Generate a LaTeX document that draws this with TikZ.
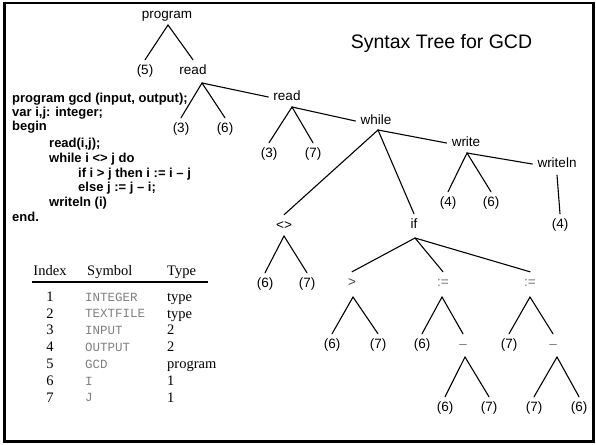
\documentclass[tikz,border=0pt]{standalone}
\usepackage{fontspec}
\setmainfont{Liberation Sans}
\newfontfamily\serifface{Liberation Serif}
\newfontfamily\monoface{Liberation Mono}
\begin{document}
\begin{tikzpicture}[x=1pt,y=-1pt,
  lab/.style={font=\fontsize{13.5}{16}\selectfont, inner xsep=5pt, inner ysep=0pt,
              text height=9.5pt, text depth=2.5pt, minimum height=22pt},
  opr/.style={lab, text=black!55},
  edge/.style={line width=1.1pt, line cap=round},
  code/.style={font=\bfseries\fontsize{13}{15}\selectfont, anchor=west, inner sep=0pt},
  tabs/.style={font=\serifface\fontsize{14.5}{17}\selectfont, inner sep=0pt,
               text height=9pt, text depth=2.5pt},
  tabm/.style={font=\monoface\fontsize{12.5}{15}\selectfont, inner sep=0pt, text=black!50,
               anchor=west, text height=8pt, text depth=2pt},
  title/.style={font=\fontsize{19.5}{22}\selectfont, inner sep=0pt}]
\useasboundingbox (0,0) rectangle (596,444);
\draw[line width=2.5pt] (4.5,3) rectangle (593.5,441.5);
\draw[line width=1.5pt] (3.5,3) -- (3.5,441.5);

% title
\node[title] (ttl) at (441.5,43) {Syntax Tree for GCD};

% code
\node[code] (c1) at (12,99) {program gcd (input, output);};
\node[code] (c2) at (12,113) {var i,j: integer;};
\node[code] (c3) at (12,127) {begin};
\node[code] (c4) at (49,144) {read(i,j);};
\node[code] (c5) at (49,159) {while i <> j do};
\node[code] (c6) at (78,174) {if i > j then i := i – j};
\node[code] (c7) at (78,188) {else j := j – i;};
\node[code] (c8) at (49,203) {writeln (i)};
\node[code] (c9) at (12,217) {end.};

% tree nodes
\node[lab] (prog) at (167,15) {program};
\node[lab] (n5) at (145,71) {(5)};
\node[lab] (rd1) at (193,71) {read};
\node[lab] (n3a) at (181,129) {(3)};
\node[lab] (n6a) at (225,129) {(6)};
\node[lab] (rd2) at (287,97) {read};
\node[lab] (n3b) at (269,154) {(3)};
\node[lab] (n7b) at (313,154) {(7)};
\node[lab] (wh) at (376,121) {while};
\node[lab] (wr) at (466,143) {write};
\node[lab] (n4a) at (448,203) {(4)};
\node[lab] (n6b) at (491,203) {(6)};
\node[lab] (wl) at (557,164) {writeln};
\node[lab] (n4b) at (560,225) {(4)};
\node[lab] (ne) at (284,226) {<>};
\node[lab] (iff) at (414,225) {if};
\node[lab] (n6c) at (265,284) {(6)};
\node[lab] (n7c) at (307,284) {(7)};
\node[opr, text=black!75] (gt) at (352,283) {>};
\node[opr] (as1) at (443,283) {:=};
\node[opr] (as2) at (530,283) {:=};
\node[lab] (n6d) at (332,345) {(6)};
\node[lab] (n7d) at (378,345) {(7)};
\node[lab] (n6e) at (422,345) {(6)};
\node[opr] (mi1) at (463,345) {–};
\node[lab] (n7e) at (509,345) {(7)};
\node[opr] (mi2) at (553,345) {–};
\node[lab] (n6f) at (445,408) {(6)};
\node[lab] (n7f) at (489,408) {(7)};
\node[lab] (n7g) at (534,408) {(7)};
\node[lab] (n6g) at (579,408) {(6)};

% apex points under parents
\coordinate (aprog) at (168,25);
\coordinate (ard1) at (202,83);
\coordinate (ard2) at (292,107);
\coordinate (awh) at (378,130);
\coordinate (awr) at (467,153);
\coordinate (ane) at (284,236);
\coordinate (aif) at (415,238);
\coordinate (agt) at (353,297);
\coordinate (aas1) at (442,297);
\coordinate (aas2) at (530,297);
\coordinate (ami1) at (465,357);
\coordinate (ami2) at (557,357);

% edges
\draw[edge] (n5.north) -- (aprog) -- (rd1.north);
\draw[edge] (n3a.north) -- (ard1) -- (n6a.north);
\draw[edge] (ard1) -- (rd2.west);
\draw[edge] (n3b.north) -- (ard2) -- (n7b.north);
\draw[edge] (ard2) -- (wh.west);
\draw[edge] (ne.north) -- (awh) -- (iff.north);
\draw[edge] (awh) -- (wr.west);
\draw[edge] (n4a.north) -- (awr) -- (n6b.north);
\draw[edge] (awr) -- (wl.west);
\draw[edge] (wl.south) -- (n4b.north);
\draw[edge] (n6c.north) -- (ane) -- (n7c.north);
\draw[edge] (gt.north) -- (aif) -- (as1.north);
\draw[edge] (aif) -- (as2.north);
\draw[edge] (n6d.north) -- (agt) -- (n7d.north);
\draw[edge] (n6e.north) -- (aas1) -- (mi1.north);
\draw[edge] (n7e.north) -- (aas2) -- (mi2.north);
\draw[edge] (n6f.north) -- (ami1) -- (n7f.north);
\draw[edge] (n7g.north) -- (ami2) -- (n6g.north);

% symbol table
\node[tabs] (hidx) at (50,272) {Index};
\node[tabs, anchor=west] (hsym) at (87,272) {Symbol};
\node[tabs, anchor=west] (htyp) at (167,272) {Type};
\coordinate (rl) at (32,282);
\coordinate (rr) at (208,282);
\draw[line width=1.2pt] (rl) -- (rr);
\foreach \i/\s/\t in {1/INTEGER/type, 2/TEXTFILE/type, 3/INPUT/2, 4/OUTPUT/2, 5/GCD/program, 6/I/1, 7/J/1}{
  \node[tabs] (idx\i) at (50,{298+16.8*(\i-1)}) {\i};
  \node[tabm] (sym\i) at (85,{298+16.8*(\i-1)}) {\s};
  \node[tabs, anchor=west] (typ\i) at (167,{298+16.8*(\i-1)}) {\t};
}
\end{tikzpicture}
\end{document}
